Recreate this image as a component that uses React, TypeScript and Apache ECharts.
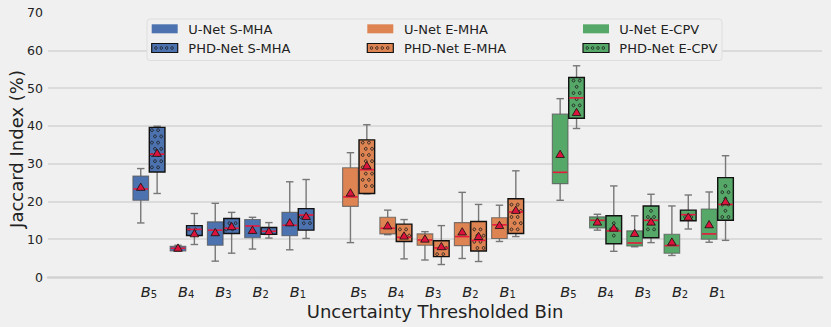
import React, { useEffect, useRef } from "react";
import * as echarts from "echarts";

// ---- data (5-number summaries: [min, Q1, median, Q3, max]) ----
const binLabels = ["5", "4", "3", "2", "1"];
const groupNames = ["S-MHA", "E-MHA", "E-CPV"];

const unetSMHA = [[14.3, 20.3, 23.3, 26.7, 28.7], [6.8, 6.9, 7.6, 8.1, 8.4], [4.2, 8.4, 12.4, 14.6, 19.5], [7.4, 10.4, 13.5, 15.2, 15.8], [7.2, 10.9, 13.7, 17.1, 25.2]];
const unetSMHAMean = [23.8, 7.7, 11.8, 12.4, 14.4];
const phdSMHA = [[22.1, 27.8, 32.5, 39.6, 39.9], [8.6, 11.0, 12.6, 13.6, 16.8], [6.3, 11.5, 12.9, 15.5, 17.1], [10.3, 11.3, 12.1, 13.1, 14.4], [10.2, 12.4, 16.4, 18.1, 25.8]];
const phdSMHAMean = [32.8, 11.5, 13.4, 12.1, 16.1];

const unetEMHA = [[9.1, 18.7, 21.2, 28.9, 32.9], [11.2, 11.4, 12.9, 15.8, 17.7], [4.5, 8.4, 9.8, 11.4, 12.0], [4.9, 8.3, 10.7, 14.4, 22.4], [9.4, 10.2, 13.8, 15.7, 19.0]];
const unetEMHAMean = [22.3, 13.6, 10.1, 12.0, 13.7];
const phdEMHA = [[22.0, 22.1, 28.4, 36.3, 40.3], [4.8, 9.4, 10.5, 14.0, 15.2], [3.3, 5.4, 7.7, 9.6, 13.6], [4.1, 6.9, 9.7, 14.7, 19.2], [10.7, 11.5, 17.2, 20.7, 28.1]];
const phdEMHAMean = [29.5, 10.9, 8.1, 10.8, 17.7];

const unetECPV = [[20.3, 24.7, 27.7, 43.1, 47.2], [12.4, 13.0, 15.0, 15.9, 16.6], [8.0, 8.2, 9.0, 12.2, 16.2], [5.7, 6.3, 8.3, 11.3, 18.8], [9.2, 10.0, 11.4, 18.0, 22.5]];
const unetECPVMean = [32.5, 14.6, 11.6, 9.3, 13.9];
const phdECPV = [[39.3, 42.0, 47.4, 52.8, 55.9], [6.8, 8.8, 12.2, 16.2, 24.1], [9.1, 10.4, 15.0, 18.8, 21.9], [12.7, 14.9, 16.5, 17.7, 21.7], [9.7, 15.0, 19.2, 26.3, 32.1]];
const phdECPVMean = [43.6, 13.0, 14.6, 15.9, 20.0];

const yTicks = [0, 10, 20, 30, 40, 50, 60, 70];

// ---- layout / style ----
const groupOffsets = [0, 5.63, 11.26];
const BOX_W = 0.42;
const CAP_W = 0.2;
const PAIR_OFF = 0.22;
const FONT = "DejaVu Sans";
const colors = ["#4c72b0", "#dd8452", "#55a868"];
const MEDIAN = "#e8183c";
const MEAN = "#dc143c";

const seriesDefs = [
  { name: "U-Net S-MHA", g: 0, hatched: false, boxes: unetSMHA, means: unetSMHAMean },
  { name: "PHD-Net S-MHA", g: 0, hatched: true, boxes: phdSMHA, means: phdSMHAMean },
  { name: "U-Net E-MHA", g: 1, hatched: false, boxes: unetEMHA, means: unetEMHAMean },
  { name: "PHD-Net E-MHA", g: 1, hatched: true, boxes: phdEMHA, means: phdEMHAMean },
  { name: "U-Net E-CPV", g: 2, hatched: false, boxes: unetECPV, means: unetECPVMean },
  { name: "PHD-Net E-CPV", g: 2, hatched: true, boxes: phdECPV, means: phdECPVMean },
];

const tickPositions: number[] = [];
const tickTexts: string[] = [];
groupNames.forEach((_, g) => {
  binLabels.forEach((b, i) => {
    tickPositions.push(groupOffsets[g] + i);
    tickTexts.push(b);
  });
});

function hatchCircles(left: number, top: number, right: number, bottom: number) {
  const out: any[] = [];
  const dx = 6.2, dy = 6.2, r = 1.4, m = r + 0.8;
  const k0 = Math.floor(top / dy) - 1;
  const k1 = Math.ceil(bottom / dy) + 1;
  for (let k = k0; k <= k1; k++) {
    const cy = k * dy;
    if (cy < top + m || cy > bottom - m) continue;
    const off = (((k % 2) + 2) % 2) * dx / 2;
    const j0 = Math.floor(left / dx) - 1;
    const j1 = Math.ceil(right / dx) + 1;
    for (let j = j0; j <= j1; j++) {
      const cx = j * dx + off;
      if (cx < left + m || cx > right - m) continue;
      out.push({
        type: "circle",
        shape: { cx, cy, r },
        style: { fill: "none", stroke: "#1e1e1e", lineWidth: 0.9 },
      });
    }
  }
  return out;
}

function makeRender(color: string, hatched: boolean) {
  return (params: any, api: any) => {
    const x = api.value(0);
    const mn = api.value(1), q1 = api.value(2), md = api.value(3), q3 = api.value(4), mx = api.value(5), mean = api.value(6);
    const cx = api.coord([x, 0])[0];
    const y = (v: number) => api.coord([x, v])[1];
    const w = api.size([BOX_W, 0])[0];
    const cw = api.size([CAP_W, 0])[0];
    const wStyle = { stroke: "#777777", lineWidth: 1.4 };
    const children: any[] = [
      { type: "line", shape: { x1: cx, y1: y(mn), x2: cx, y2: y(q1) }, style: wStyle },
      { type: "line", shape: { x1: cx, y1: y(q3), x2: cx, y2: y(mx) }, style: wStyle },
      { type: "line", shape: { x1: cx - cw / 2, y1: y(mn), x2: cx + cw / 2, y2: y(mn) }, style: wStyle },
      { type: "line", shape: { x1: cx - cw / 2, y1: y(mx), x2: cx + cw / 2, y2: y(mx) }, style: wStyle },
      {
        type: "rect",
        shape: { x: cx - w / 2, y: y(q3), width: w, height: y(q1) - y(q3) },
        style: {
          fill: color,
          stroke: hatched ? "#111111" : "rgba(85,85,85,0.75)",
          lineWidth: hatched ? 1.4 : 1.1,
        },
      },
    ];
    if (hatched) children.push(...hatchCircles(cx - w / 2, y(q3), cx + w / 2, y(q1)));
    children.push({
      type: "line",
      shape: { x1: cx - w / 2 + 0.6, y1: y(md), x2: cx + w / 2 - 0.6, y2: y(md) },
      style: { stroke: MEDIAN, lineWidth: 1.6 },
    });
    const ym = y(mean);
    children.push({
      type: "polygon",
      shape: { points: [[cx, ym - 4], [cx - 4.3, ym + 3.3], [cx + 4.3, ym + 3.3]] },
      style: { fill: MEAN, stroke: "#111111", lineWidth: 0.8 },
    });
    return { type: "group", children };
  };
}

function legendGraphic() {
  const colX = [151.7, 367.3, 583];
  const textX = [188.3, 404, 619.3];
  const rowY = [24.3, 43.5];
  const els: any[] = [
    {
      type: "rect",
      shape: { x: 147, y: 19, width: 575, height: 41.5, r: 3 },
      style: { fill: "#f0f0f0", stroke: "#dedede", lineWidth: 1 },
      z: 10,
    },
  ];
  seriesDefs.forEach((s) => {
    const col = s.g;
    const row = s.hatched ? 1 : 0;
    const px = colX[col], py = rowY[row];
    els.push({
      type: "rect",
      shape: { x: px, y: py, width: 26, height: 9 },
      style: {
        fill: colors[col],
        stroke: s.hatched ? "#111111" : "none",
        lineWidth: s.hatched ? 1.2 : 0,
      },
      z: 11,
    });
    if (s.hatched) {
      for (let k = 0; k < 4; k++) {
        els.push({
          type: "circle",
          shape: { cx: px + 4.2 + k * 5.4, cy: py + 4.5, r: 1.3 },
          style: { fill: "none", stroke: "#1e1e1e", lineWidth: 0.9 },
          z: 12,
        });
      }
    }
    els.push({
      type: "text",
      x: textX[col],
      y: py + 4.8,
      style: {
        text: s.name,
        font: `13px "${FONT}"`,
        fill: "#222222",
        textAlign: "left",
        textVerticalAlign: "middle",
      },
      z: 12,
    });
  });
  els.push({
    type: "text",
    x: 16,
    y: 149,
    rotation: Math.PI / 2,
    style: {
      text: "Jaccard Index (%)",
      font: `18px "${FONT}"`,
      fill: "#222222",
      textAlign: "center",
      textVerticalAlign: "middle",
    },
    z: 12,
  });
  els.push({
    type: "text",
    x: 435,
    y: 311.5,
    style: {
      text: "Uncertainty Thresholded Bin",
      font: `18px "${FONT}"`,
      fill: "#222222",
      textAlign: "center",
      textVerticalAlign: "middle",
    },
    z: 12,
  });
  return els;
}

export default function App() {
  const ref = useRef<HTMLDivElement>(null);
  useEffect(() => {
    if (!ref.current) return;
    const chart = echarts.init(ref.current, undefined, { renderer: "svg" });
    const series = seriesDefs.map((s) => ({
      type: "custom",
      name: s.name,
      clip: false,
      renderItem: makeRender(colors[s.g], s.hatched),
      data: s.boxes.map((b, i) => [
        groupOffsets[s.g] + i + (s.hatched ? PAIR_OFF : -PAIR_OFF),
        ...b,
        s.means[i],
      ]),
      encode: { x: 0, y: [1, 2, 3, 4, 5, 6] },
      z: 3,
    }));
    chart.setOption({
      animation: false,
      backgroundColor: "#f0f0f0",
      textStyle: { fontFamily: FONT },
      grid: { left: 48, right: 9, top: 12.5, bottom: 50, containLabel: false },
      xAxis: {
        type: "value",
        min: -2.71,
        max: 18.07,
        axisLine: { show: true, lineStyle: { color: "#d2d2d2", width: 2.5 } },
        axisTick: { show: false },
        splitLine: { show: false },
        axisLabel: {
          customValues: tickPositions,
          margin: 8,
          formatter: (v: number) => {
            const idx = tickPositions.findIndex((p) => Math.abs(p - v) < 1e-6);
            return idx >= 0 ? `{b|B}{s|${tickTexts[idx]}}` : "";
          },
          rich: {
            b: { fontFamily: FONT, fontStyle: "italic", fontSize: 14.5, lineHeight: 13, color: "#222222" },
            s: { fontFamily: FONT, fontSize: 10, lineHeight: 9, color: "#222222", padding: [6, 0, 0, 0] },
          },
        },
      },
      yAxis: {
        type: "value",
        min: yTicks[0],
        max: yTicks[yTicks.length - 1],
        interval: 10,
        axisLine: { show: false },
        axisTick: { show: false },
        axisLabel: { fontFamily: FONT, fontSize: 12.5, color: "#222222", margin: 5 },
        splitLine: {
          show: true,
          showMinLine: false,
          showMaxLine: false,
          lineStyle: { color: "#d4d4d4", width: 1.5 },
        },
      },
      graphic: { elements: legendGraphic() },
      series,
    });
    return () => chart.dispose();
  }, []);
  return (
    <div
      ref={ref}
      style={{ position: "fixed", left: 0, top: 0, width: 831, height: 327, background: "#f0f0f0" }}
    />
  );
}
